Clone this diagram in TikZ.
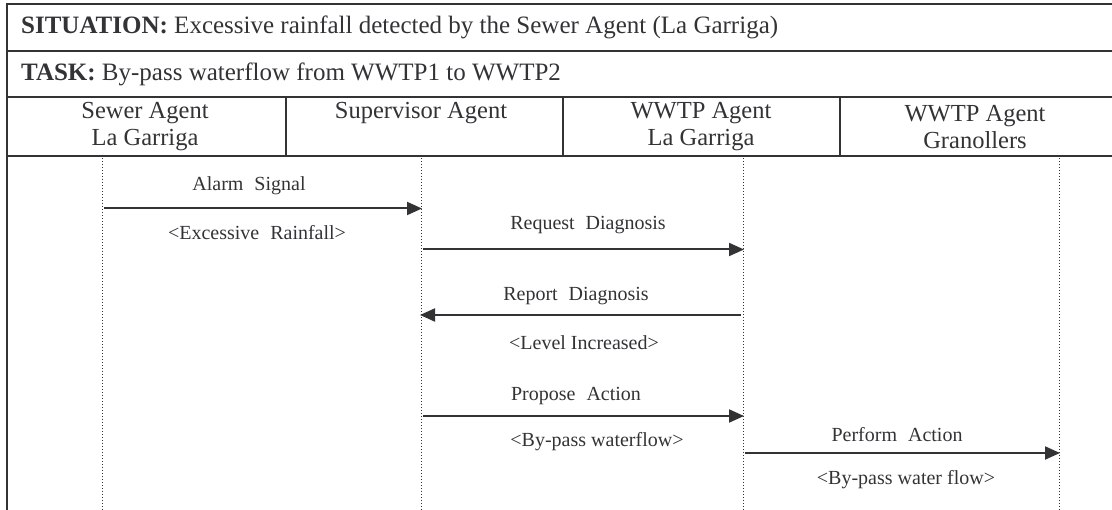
\documentclass[tikz,border=0pt]{standalone}
\usepackage{fontspec}
\setmainfont{Liberation Serif}
\usetikzlibrary{arrows.meta}
\definecolor{ink}{HTML}{333336}
\tikzset{
  frame/.style={draw=ink, line width=2.2pt},
  lifeline/.style={draw=ink, line width=1pt, dotted},
  msg/.style={draw=ink, line width=2pt, -{Triangle[length=15pt,width=13pt]}, shorten >=-1pt},
  hdr/.style={text=ink, font=\fontsize{24.5}{27}\selectfont, align=center, inner sep=0pt},
  row/.style={text=ink, font=\fontsize{25}{29}\selectfont, anchor=west, inner sep=0pt},
  lbl/.style={text=ink, font=\fontsize{20}{24}\selectfont, inner sep=0pt},
}
\newcommand{\wsp}{\hspace{0.55em}}
\begin{document}
\begin{tikzpicture}[x=1pt,y=-1pt]
\useasboundingbox (0,0) rectangle (1112,510);
% frame
\draw[frame] (7,510) -- (7,4) -- (1112,4);
\draw[frame] (7,51) -- (1112,51);
\draw[frame] (7,97) -- (1112,97);
\draw[frame] (7,156) -- (1112,156);
\draw[frame] (286,97) -- (286,156);
\draw[frame] (563,97) -- (563,156);
\draw[frame] (840,97) -- (840,156);
% header texts
\node[row] (sit) at (21,27) {\textbf{SITUATION:} Excessive rainfall detected by the Sewer Agent (La Garriga)};
\node[row] (task) at (21,74) {\textbf{TASK:} By-pass waterflow from WWTP1 to WWTP2};
\node[hdr] (h1) at (145,127) {Sewer Agent\\La Garriga};
\node[hdr] (h2) at (421,113) {Supervisor Agent};
\node[hdr] (h3) at (701,127) {WWTP Agent\\La Garriga};
\node[hdr] (h4) at (975,127) {WWTP Agent\\Granollers};
% lifelines
\coordinate (a0) at (102,158);  \coordinate (a1) at (102,510);
\coordinate (b0) at (421,158);  \coordinate (b1) at (421,510);
\coordinate (c0) at (743,158);  \coordinate (c1) at (743,510);
\coordinate (d0) at (1059,158); \coordinate (d1) at (1059,510);
\draw[lifeline] (a0) -- (a1);
\draw[lifeline] (b0) -- (b1);
\draw[lifeline] (c0) -- (c1);
\draw[lifeline] (d0) -- (d1);
% message end points
\coordinate (m1s) at (104,208.5); \coordinate (m1e) at (421,208.5);
\coordinate (m2s) at (423,249.5); \coordinate (m2e) at (743,249.5);
\coordinate (m3s) at (741,315);   \coordinate (m3e) at (421,315);
\coordinate (m4s) at (423,416);   \coordinate (m4e) at (743,416);
\coordinate (m5s) at (745,453);   \coordinate (m5e) at (1059,453);
\draw[msg] (m1s) -- (m1e);
\draw[msg] (m2s) -- (m2e);
\draw[msg] (m3s) -- (m3e);
\draw[msg] (m4s) -- (m4e);
\draw[msg] (m5s) -- (m5e);
% labels
\node[lbl] (l1a) at (249,186) {Alarm\wsp Signal};
\node[lbl] (l1b) at (257,233) {<Excessive\wsp Rainfall>};
\node[lbl] (l2a) at (588,225) {Request\wsp Diagnosis};
\node[lbl] (l3a) at (576,296) {Report\wsp Diagnosis};
\node[lbl] (l3b) at (584,343) {<Level Increased>};
\node[lbl] (l4a) at (576,396) {Propose\wsp Action};
\node[lbl] (l4b) at (597,442) {<By-pass waterflow>};
\node[lbl] (l5a) at (897,435) {Perform\wsp Action};
\node[lbl] (l5b) at (906,480) {<By-pass water flow>};
\end{tikzpicture}
\end{document}
